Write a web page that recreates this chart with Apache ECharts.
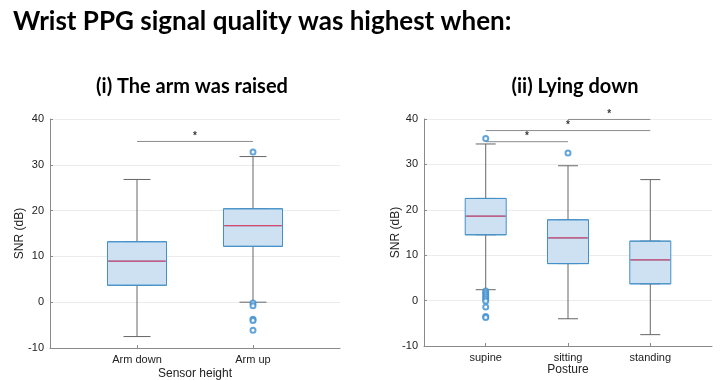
<!DOCTYPE html>
<html><head><meta charset="utf-8">
<script src="https://cdn.jsdelivr.net/npm/echarts@6/dist/echarts.min.js"></script>
<style>html,body{margin:0;padding:0;background:#fff}#c{width:720px;height:380px}</style>
</head><body><div id="c"></div>
<script>
// ---- data ----
const mainTitle = 'Wrist PPG signal quality was highest when:';
const leftTitle = '(i) The arm was raised';
const rightTitle = '(ii) Lying down';
const leftCategories = ['Arm down', 'Arm up'];
const rightCategories = ['supine', 'sitting', 'standing'];
// [min whisker, Q1, median, Q3, max whisker]
const leftStats = [
  [-7.5, 3.7, 8.95, 13.2, 26.8],
  [0.0, 12.2, 16.7, 20.4, 31.8]
];
const rightStats = [
  [2.4, 14.5, 18.6, 22.5, 34.5],
  [-4.0, 8.15, 13.8, 17.8, 29.7],
  [-7.5, 3.7, 8.96, 13.1, 26.65]
];
// outliers: [category position, value]
const leftOutliers = [[2, 32.8], [2, -0.2], [2, -0.8], [2, -3.7], [2, -4.0], [2, -6.1]];
const rightOutliers = [[1, 35.7], [1, 2.1], [1, 1.7], [1, 1.25], [1, 0.8], [1, 0.35], [1, -0.1], [1, -1.4], [1, -3.5], [1, -3.7], [2, 32.5]];
// significance brackets: [from, to, y]
const leftSig = [[1, 2, 35.1]];
const rightSig = [[1, 2, 35.0], [1, 3, 37.45], [2, 3, 39.9]];
const sigMark = '*';
const yTicks = [-10, 0, 10, 20, 30, 40];

// ---- styles ----
const axisGray = '#8a8a8a';
const whiskerColor = '#666666';
const boxFill = '#cde1f2';
const boxBorder = '#4590c8';
const medianColor = '#d8486c';
const outlierColor = '#3d8fd0';
const labelFont = 'Liberation Sans';

function xAxisDef(gridIndex, max, cats, show) {
  return {
    type: 'value', gridIndex, min: 0.25, max, show,
    axisLine: { show: true, onZero: false, lineStyle: { color: axisGray } },
    axisTick: { show: true, inside: true, length: 3, customValues: cats.map((c, i) => i + 1), lineStyle: { color: axisGray } },
    axisLabel: { show: true, customValues: cats.map((c, i) => i + 1), formatter: v => cats[Math.round(v) - 1] || '', color: '#222', fontSize: 11, fontFamily: labelFont, margin: 6 },
    splitLine: { show: false }
  };
}
function yAxisDef(gridIndex, nameGap) {
  return {
    type: 'value', gridIndex, min: yTicks[0], max: yTicks[yTicks.length - 1], interval: 10,
    name: 'SNR (dB)', nameLocation: 'middle', nameGap, nameMoveOverlap: false,
    nameTextStyle: { color: '#222', fontSize: 12, fontFamily: labelFont },
    axisLine: { show: true, onZero: false, lineStyle: { color: axisGray } },
    axisTick: { show: true, inside: true, length: 3, lineStyle: { color: axisGray } },
    axisLabel: { color: '#222', fontSize: 11, fontFamily: labelFont, margin: 6 },
    splitLine: { show: true, lineStyle: { color: '#ececec' } }
  };
}

function boxSeries(stats, xBase, yIdx, capW, boxW) {
  const whisk = stats.map((d, i) => [i + 1, d[0], d[1], d[2], d[3], d[4]]);
  const box = stats.map((d, i) => [i + 1, d[1], d[1], d[2], d[3], d[3]]);
  const med = stats.map((d, i) => [i + 1, d[2], d[2], d[2], d[2], d[2]]);
  const common = { type: 'boxplot', yAxisIndex: yIdx, silent: true, encode: { x: 0, y: [1, 2, 3, 4, 5] } };
  return [
    Object.assign({}, common, { xAxisIndex: xBase + 1, data: whisk, boxWidth: [capW, capW], itemStyle: { color: '#fff', borderColor: whiskerColor, borderWidth: 1 }, z: 2 }),
    Object.assign({}, common, { xAxisIndex: xBase + 2, data: box, boxWidth: [boxW, boxW], itemStyle: { color: boxFill, borderColor: boxBorder, borderWidth: 1 }, z: 3 }),
    Object.assign({}, common, { xAxisIndex: xBase + 3, data: med, boxWidth: [boxW - 2, boxW - 2], itemStyle: { color: medianColor, borderColor: medianColor, borderWidth: 1.2 }, z: 4 })
  ];
}
function extraSeries(outliers, sigs, xIdx, yIdx) {
  const arr = [{
    type: 'scatter', xAxisIndex: xIdx, yAxisIndex: yIdx, data: outliers, symbol: 'emptyCircle', symbolSize: 5,
    itemStyle: { color: outlierColor, borderColor: outlierColor, borderWidth: 1 }, z: 5, silent: true
  }];
  sigs.forEach(s => {
    arr.push({
      type: 'line', xAxisIndex: xIdx, yAxisIndex: yIdx, data: [[s[0], s[2]], [s[1], s[2]]], symbol: 'none',
      lineStyle: { color: '#8c8c8c', width: 1 }, clip: false, z: 5, silent: true
    });
    arr.push({
      type: 'scatter', xAxisIndex: xIdx, yAxisIndex: yIdx, data: [[(s[0] + s[1]) / 2, s[2]]], symbolSize: 0, clip: false,
      label: { show: true, formatter: sigMark, position: 'top', distance: 0, color: '#000', fontSize: 10, fontWeight: 'bold', fontFamily: labelFont },
      z: 6, silent: true
    });
  });
  return arr;
}

const leftX = xAxisDef(0, 2.75, leftCategories, true);
leftX.name = 'Sensor height'; leftX.nameLocation = 'middle'; leftX.nameGap = 20; leftX.nameMoveOverlap = false;
leftX.nameTextStyle = { color: '#222', fontSize: 12, fontFamily: labelFont };
const rightX = xAxisDef(1, 3.75, rightCategories, true);
rightX.name = 'Posture'; rightX.nameLocation = 'middle'; rightX.nameGap = 18; rightX.nameMoveOverlap = false;
rightX.nameTextStyle = { color: '#222', fontSize: 12, fontFamily: labelFont };

const option = {
  animation: false,
  backgroundColor: '#fff',
  title: [
    { text: mainTitle, left: 8, top: 4, textStyle: { fontFamily: 'Lato', fontWeight: 'bold', fontSize: 26, color: '#000' } },
    { text: leftTitle, left: 187, top: 72, textAlign: 'center', textStyle: { fontFamily: 'Lato', fontWeight: 'bold', fontSize: 20, color: '#000' } },
    { text: rightTitle, left: 570, top: 72, textAlign: 'center', textStyle: { fontFamily: 'Lato', fontWeight: 'bold', fontSize: 20, color: '#000' } }
  ],
  grid: [
    { left: 50, right: 380, top: 119, bottom: 32, outerBoundsMode: 'none', containLabel: false },
    { left: 424, right: 8, top: 119, bottom: 34, outerBoundsMode: 'none', containLabel: false }
  ],
  xAxis: [
    leftX, xAxisDef(0, 2.75, leftCategories, false), xAxisDef(0, 2.75, leftCategories, false), xAxisDef(0, 2.75, leftCategories, false),
    rightX, xAxisDef(1, 3.75, rightCategories, false), xAxisDef(1, 3.75, rightCategories, false), xAxisDef(1, 3.75, rightCategories, false)
  ],
  yAxis: [yAxisDef(0, 24), yAxisDef(1, 22)],
  series: [].concat(
    boxSeries(leftStats, 0, 0, 27, 59),
    extraSeries(leftOutliers, leftSig, 0, 0),
    boxSeries(rightStats, 4, 1, 20, 41),
    extraSeries(rightOutliers, rightSig, 4, 1)
  )
};
echarts.init(document.getElementById('c'), null, { renderer: 'canvas' }).setOption(option);
</script>
</body></html>
